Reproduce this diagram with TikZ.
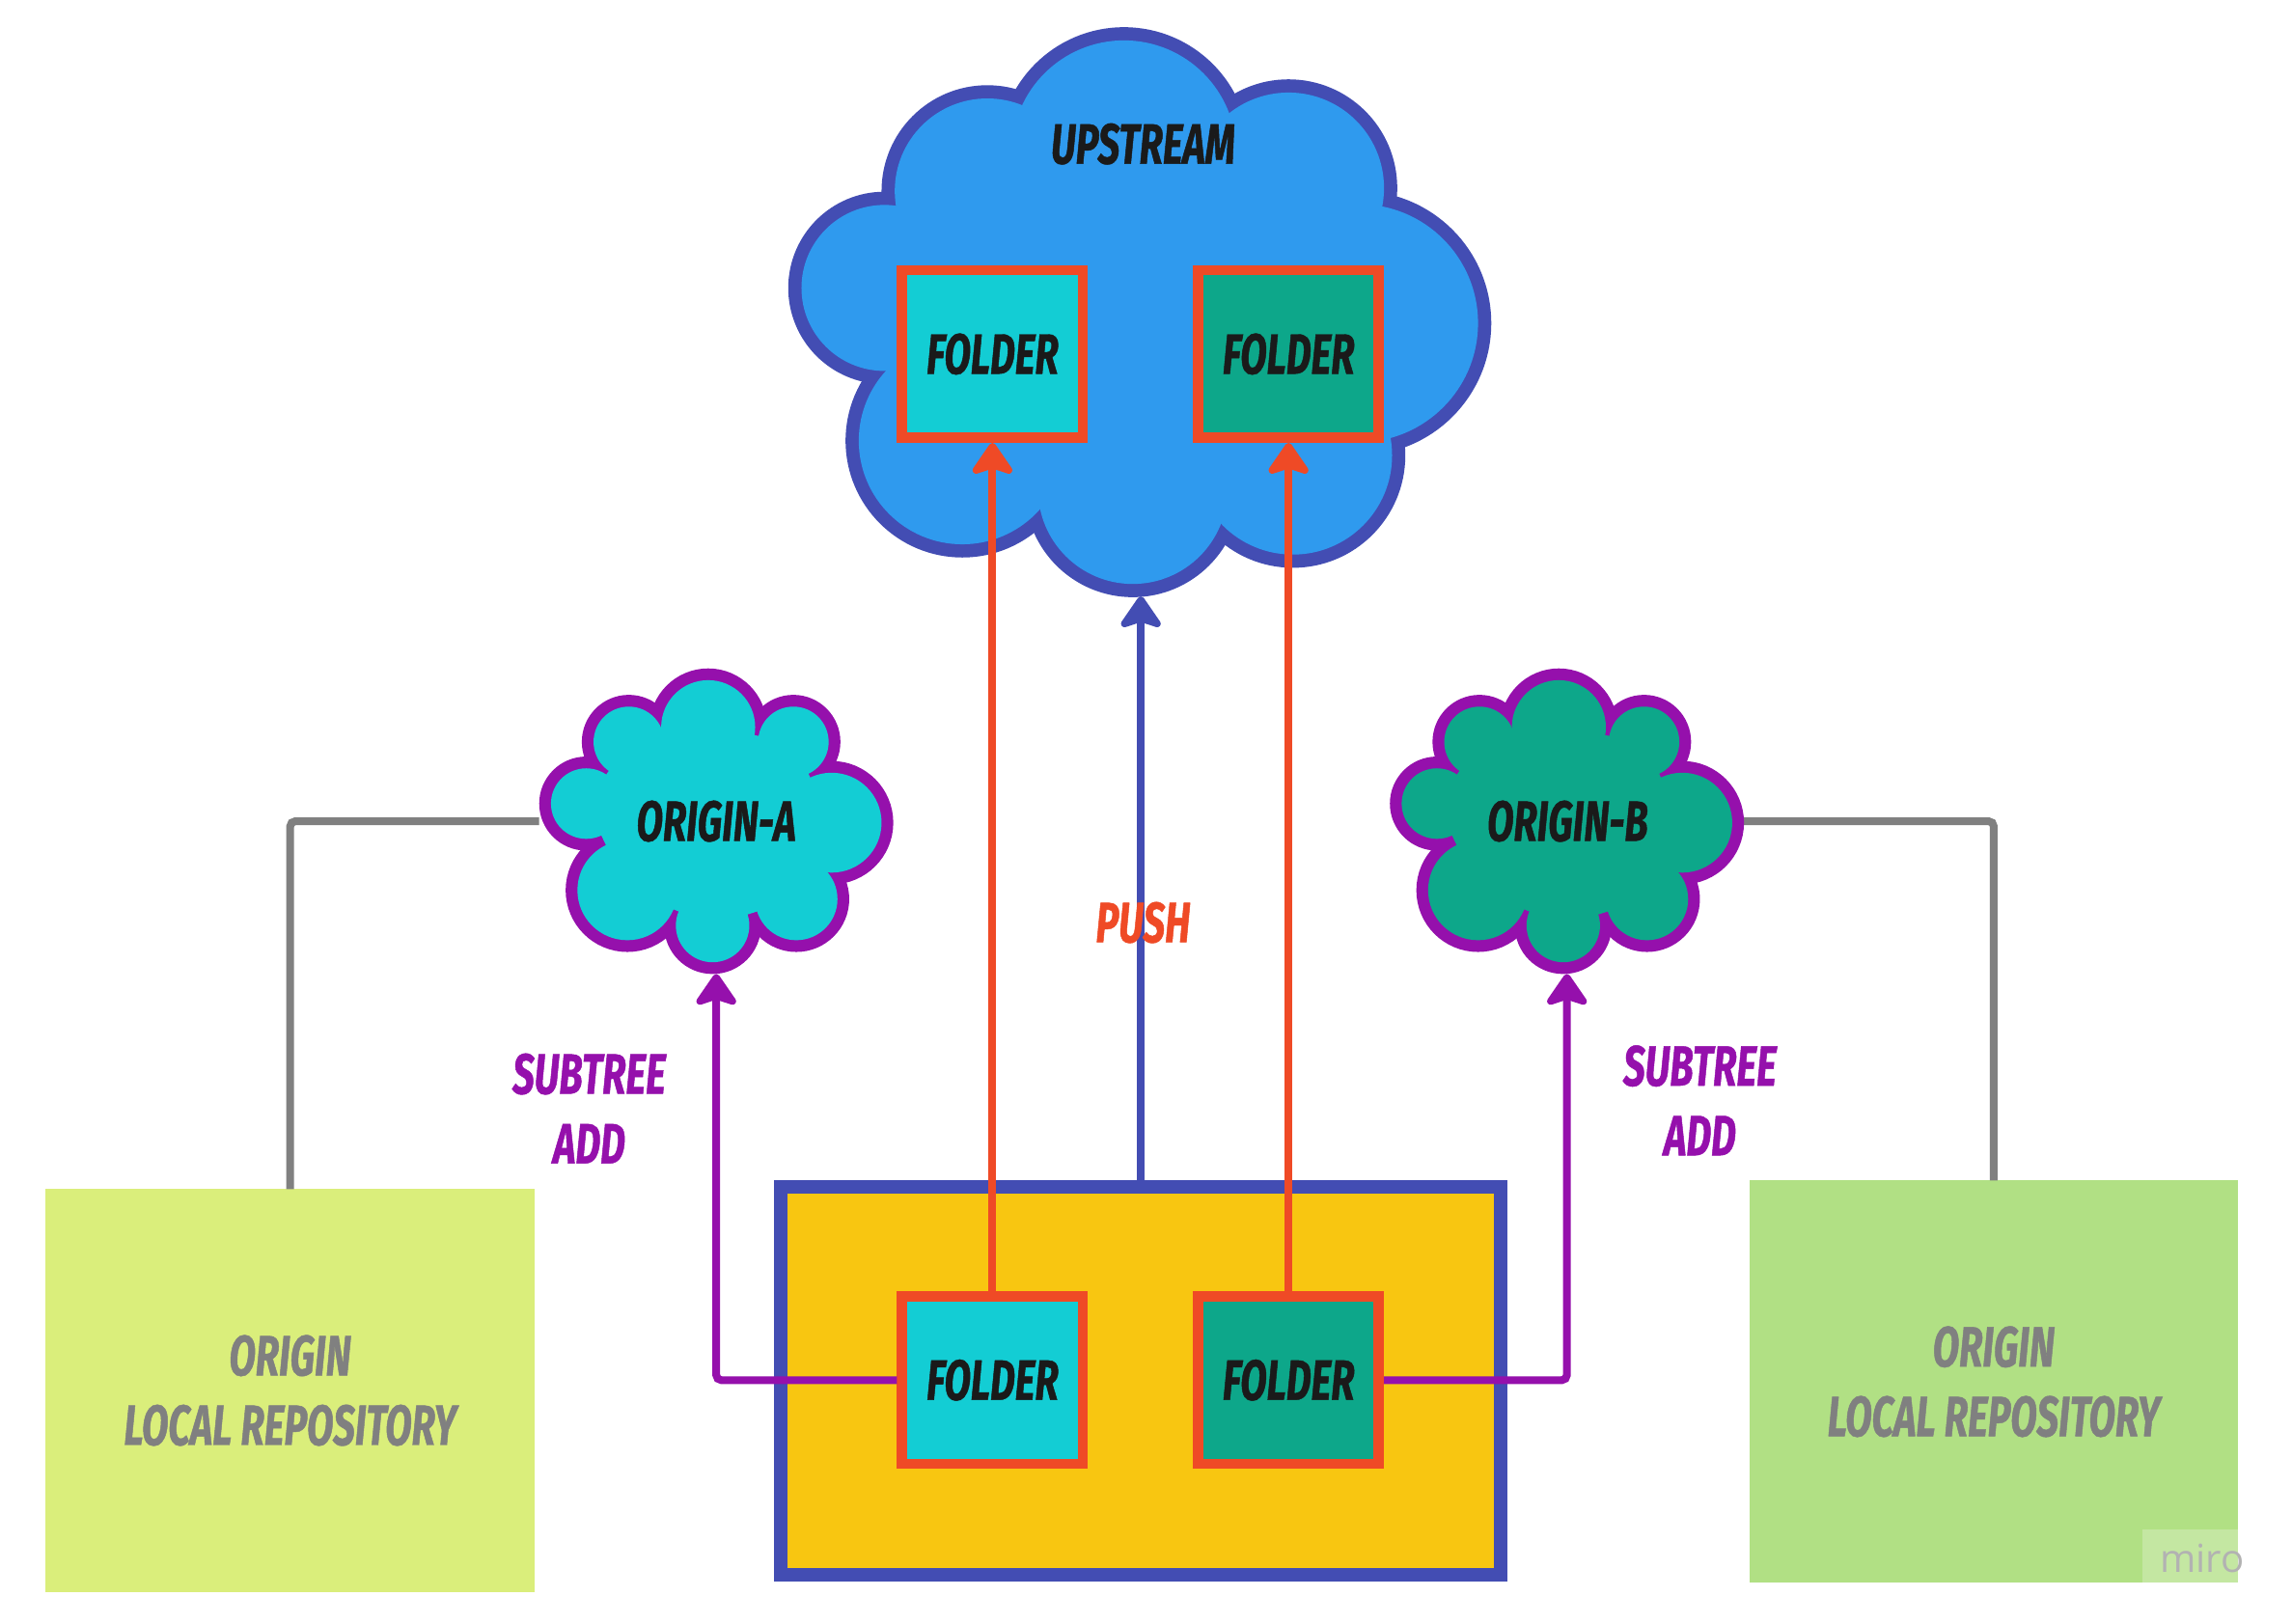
\documentclass[tikz,border=0pt]{standalone}
\usepackage{fontspec}
\newfontfamily\comicfont[FakeStretch=0.68,FakeBold=0.8]{Fira Sans}
\newfontfamily\mirofont{Open Sans}
\usetikzlibrary{arrows.meta,fit}
\definecolor{cupblue}{HTML}{2F9AEE}
\definecolor{cindigo}{HTML}{434DB3}
\definecolor{ccyan}{HTML}{13CDD4}
\definecolor{cteal}{HTML}{0DA78A}
\definecolor{cred}{HTML}{EF4A26}
\definecolor{cpurple}{HTML}{9510AC}
\definecolor{cyellow}{HTML}{F8C611}
\definecolor{cgreenA}{HTML}{DAEE7B}
\definecolor{cgreenB}{HTML}{B1E084}
\definecolor{cgray}{HTML}{808080}
\definecolor{ctext}{HTML}{1A1A1A}
\begin{document}
\begin{tikzpicture}[x={(0.02cm,0)},y={(0,-0.02cm)},
  lbl/.style={font=\comicfont\bfseries\itshape\fontsize{22}{27}\selectfont, text=ctext, inner sep=0pt, align=center},
  folderbox/.style={draw=cred, line width=4pt, minimum width=2.46cm, minimum height=2.28cm, inner sep=0pt, lbl},
  greenbox/.style={minimum width=6.66cm, minimum height=5.48cm, inner sep=0pt, outer sep=0pt, lbl, text=cgray},
  conn/.style={line width=3pt},
  arrowend/.style={-{Stealth[length=14pt,width=19pt,inset=3pt,round]}},
  fitbox/.style={inner sep=0pt, outer sep=0pt}
]
\fill[white] (0,0) rectangle (1560,1105);
\useasboundingbox (0,0) rectangle (1560,1105);

% invisible extents of the clouds
\node[fitbox, fit={(537,19) (1015,406)}] (upstream) {};
\node[fitbox, fit={(367,455) (608,663)}] (originA) {};
\node[fitbox, fit={(946,455) (1187,663)}] (originB) {};

% local repositories
\node[greenbox, fill=cgreenA] (leftrepo) at (197.5,946.5) {ORIGIN\\LOCAL REPOSITORY};
\node[greenbox, fill=cgreenB] (rightrepo) at (1357,940.5) {ORIGIN\\LOCAL REPOSITORY};

% grey links (behind the clouds)
\draw[conn, cgray, rounded corners=2pt] (originA.west) -| (leftrepo.north);
\draw[conn, cgray, rounded corners=2pt] (originB.east) -| (rightrepo.north);

% upstream cloud
\foreach \x/\y/\r in {765/104/76.5, 672/130/63, 877/128/65, 925/220/81, 880/310/67.5, 771/333/64.5, 655/300/70.5, 602/196/56.5}
  \draw[cindigo, line width=10.24pt] (\x,\y) circle[radius=\r];
\fill[cupblue] (765,104) -- (877,128) -- (925,220) -- (880,310) -- (771,333) -- (655,300) -- (602,196) -- (672,130) -- cycle;
\foreach \x/\y/\r in {765/104/76.5, 672/130/63, 877/128/65, 925/220/81, 880/310/67.5, 771/333/64.5, 655/300/70.5, 602/196/56.5}
  \fill[cupblue] (\x,\y) circle[radius=\r];

% origin clouds
\foreach \sx/\cfill in {0/ccyan, 579/cteal}{
  \begin{scope}[shift={(\sx,0)}]
  \foreach \x/\y/\r in {482/495/32, 428/505/24, 540/505/24, 566/560/34, 542/612/28, 485/630/25, 427/606/34, 399/547/24}
    \draw[cpurple, line width=9.1pt] (\x,\y) circle[radius=\r];
  \fill[\cfill] (482,495) -- (540,505) -- (566,560) -- (542,612) -- (485,630) -- (427,606) -- (399,547) -- (428,505) -- cycle;
  \foreach \x/\y/\r in {482/495/32, 428/505/24, 540/505/24, 566/560/34, 542/612/28, 485/630/25, 427/606/34, 399/547/24}
    \fill[\cfill] (\x,\y) circle[radius=\r];
  \end{scope}
}

% local box and folders
\node[draw=cindigo, fill=cyellow, line width=5.3pt, minimum width=9.8cm, minimum height=5.28cm, inner sep=0pt] (localrepo) at (776.5,940) {};
\node[folderbox, fill=ccyan] (fTL) at (675.5,241) {FOLDER};
\node[folderbox, fill=cteal] (fTR) at (877,241) {FOLDER};
\node[folderbox, fill=ccyan] (fBL) at (675.5,939.5) {FOLDER};
\node[folderbox, fill=cteal] (fBR) at (877,939.5) {FOLDER};

% connectors
\draw[conn, cred, arrowend] (fBL.north) -- (fTL.south);
\draw[conn, cred, arrowend] (fBR.north) -- (fTR.south);
\draw[conn, cindigo, arrowend] (localrepo.north) -- (localrepo.north |- upstream.south);
\draw[conn, cpurple, arrowend, rounded corners=2pt] (fBL.west) -| (originA.south);
\draw[conn, cpurple, arrowend, rounded corners=2pt] (fBR.east) -| (originB.south);

% labels
\node[lbl] (upstreamlbl) at (778,98) {UPSTREAM};
\node[lbl] (originAlbl) at (487.5,559) {ORIGIN-A};
\node[lbl] (originBlbl) at (1067,559) {ORIGIN-B};
\node[lbl, text=cred] (pushlbl) at (778,628) {PUSH};
\node[lbl, text=cpurple] (subtreeA) at (401,754.5) {SUBTREE\\ADD};
\node[lbl, text=cpurple] (subtreeB) at (1157,749) {SUBTREE\\ADD};

% watermark
\node[fill=white, fill opacity=0.25, minimum width=1.3cm, minimum height=0.72cm, inner sep=0pt] (mirobox) at (1490.5,1059) {};
\node[font=\mirofont\fontsize{15}{15}\selectfont, text=black!30, inner sep=0pt] (mirotext) at (1499,1061) {miro};
\end{tikzpicture}
\end{document}
